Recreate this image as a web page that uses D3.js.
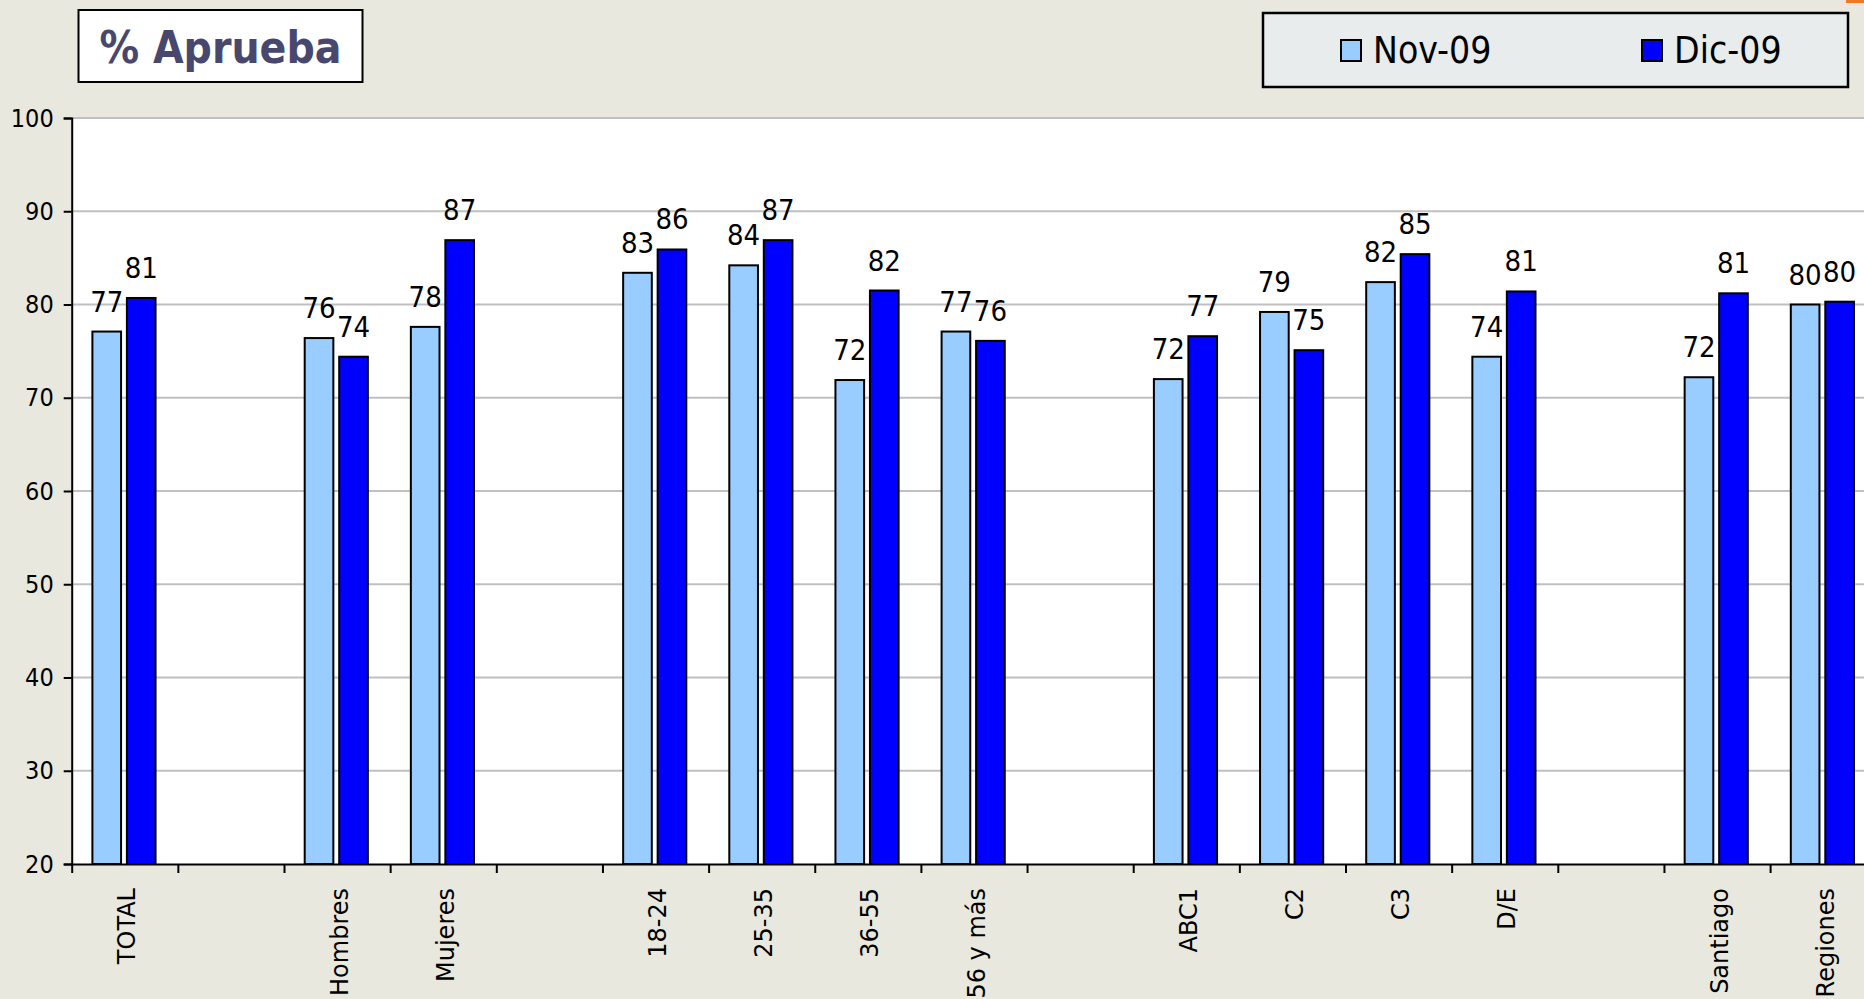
<!DOCTYPE html>
<html lang="es">
<head>
<meta charset="UTF-8">
<title>% Aprueba</title>
<script src="https://d3js.org/d3.v7.min.js"></script>
<style>
  html, body { margin: 0; padding: 0; background: #e8e8de; overflow: hidden; }
</style>
</head>
<body>
<script>
// categories ('' = empty spacer slot)
const categories = ['TOTAL', '', 'Hombres', 'Mujeres', '', '18-24', '25-35', '36-55', '56 y más',
  '', 'ABC1', 'C2', 'C3', 'D/E', '', 'Santiago', 'Regiones'];
const novValues = [77.1, null, 76.4, 77.6, null, 83.4, 84.2, 71.9, 77.1,
  null, 72.0, 79.2, 82.4, 74.4, null, 72.2, 80.0];
const dicValues = [80.7, null, 74.4, 86.9, null, 85.9, 86.9, 81.5, 76.1,
  null, 76.6, 75.1, 85.4, 81.4, null, 81.2, 80.3];
const seriesNames = ['Nov-09', 'Dic-09'];
const seriesColors = ['#99ccff', '#0000ff'];
const yTicks = [20, 30, 40, 50, 60, 70, 80, 90, 100];

const width = 1864, height = 999;
const x0 = 71.7, slot = 106.15;
const font = '"DejaVu Sans Condensed", "DejaVu Sans", sans-serif';

const svg = d3.select('body').append('svg')
  .attr('width', width).attr('height', height);

svg.append('rect').attr('width', width).attr('height', height).attr('fill', '#e8e8de');

const x = d3.scaleBand()
  .domain(d3.range(categories.length))
  .range([x0, x0 + slot * categories.length])
  .paddingInner(0).paddingOuter(0);
const xb = d3.scaleLinear()
  .domain([0, categories.length])
  .range([x0, x0 + slot * categories.length]);
const y = d3.scaleLinear().domain([20, 100]).range([864, 118]);

// plot area
svg.append('rect')
  .attr('x', x0).attr('y', y(100))
  .attr('width', width - x0).attr('height', y(20) - y(100))
  .attr('fill', '#ffffff');

// gridlines
svg.append('g').selectAll('line')
  .data(yTicks.slice(1))
  .join('line')
  .attr('x1', x0).attr('x2', width)
  .attr('y1', d => y(d)).attr('y2', d => y(d))
  .attr('stroke', '#c0c0c0').attr('stroke-width', 2);

// bars
const bw = x.bandwidth();
const offsets = [0.195 * bw, 0.195 * bw + 0.27 * bw + 0.055 * bw];
const series = [novValues, dicValues];

series.forEach((vals, s) => {
  const pts = vals.map((v, i) => ({ i, v })).filter(d => d.v != null);
  svg.append('g').selectAll('rect')
    .data(pts)
    .join('rect')
    .attr('x', d => x(d.i) + offsets[s])
    .attr('y', d => y(d.v))
    .attr('width', 0.27 * bw)
    .attr('height', d => y(20) - y(d.v))
    .attr('fill', seriesColors[s])
    .attr('stroke', '#000').attr('stroke-width', 2);

  svg.append('g').selectAll('text')
    .data(pts)
    .join('text')
    .attr('x', d => x(d.i) + offsets[s] + 0.135 * bw)
    .attr('y', d => y(d.v) - 20)
    .attr('text-anchor', 'middle')
    .style('font-family', font)
    .style('font-size', '29px')
    .style('fill', '#000')
    .text(d => Math.round(d.v));
});

// y axis
const yAxis = svg.append('g')
  .attr('transform', `translate(${x0},0)`)
  .call(d3.axisLeft(y).tickValues(yTicks).tickSize(8).tickPadding(10));
yAxis.select('.domain').attr('stroke', '#000').attr('stroke-width', 2);
yAxis.selectAll('.tick line').attr('stroke', '#000').attr('stroke-width', 2);
yAxis.selectAll('.tick text')
  .style('font-family', font).style('font-size', '25px').attr('fill', '#000');

// x axis (ticks at slot boundaries)
const xAxis = svg.append('g')
  .attr('transform', `translate(0,${y(20)})`)
  .call(d3.axisBottom(xb).tickValues(d3.range(categories.length + 1)).tickFormat('').tickSize(9).tickSizeOuter(0));
xAxis.select('.domain').attr('stroke', '#000').attr('stroke-width', 2);
xAxis.selectAll('.tick line').attr('stroke', '#000').attr('stroke-width', 2);

svg.append('g').selectAll('text')
  .data(categories.map((c, i) => ({ c, i })).filter(d => d.c))
  .join('text')
  .attr('transform', d => `translate(${x(d.i) + bw / 2 + 2},${y(20) + 24}) rotate(-90)`)
  .attr('text-anchor', 'end')
  .attr('dy', '0.36em')
  .style('font-family', '"DejaVu Sans", sans-serif')
  .style('font-size', '24px')
  .style('fill', '#000')
  .text(d => d.c);

// title box
svg.append('rect')
  .attr('x', 78.5).attr('y', 10).attr('width', 284).attr('height', 72)
  .attr('fill', '#fff').attr('stroke', '#000').attr('stroke-width', 2);
svg.append('text')
  .attr('x', 220.5).attr('y', 63)
  .attr('text-anchor', 'middle')
  .style('font-family', font)
  .style('font-weight', 'bold')
  .style('font-size', '44px')
  .style('fill', '#48486e')
  .text('% Aprueba');

// legend
svg.append('rect')
  .attr('x', 1263).attr('y', 13).attr('width', 585).attr('height', 74)
  .attr('fill', '#e8ecec').attr('stroke', '#000').attr('stroke-width', 2.5);
const legendX = [1341, 1642];
const legend = svg.append('g').selectAll('g')
  .data(seriesNames)
  .join('g')
  .attr('transform', (d, i) => `translate(${legendX[i]},40)`);
legend.append('rect')
  .attr('width', 20).attr('height', 21)
  .attr('fill', (d, i) => seriesColors[i])
  .attr('stroke', '#000').attr('stroke-width', 2);
legend.append('text')
  .attr('x', 32).attr('y', 23)
  .style('font-family', font)
  .style('font-size', '37px')
  .style('fill', '#000')
  .text(d => d);

// small orange mark at the top right corner
svg.append('rect')
  .attr('x', 1846).attr('y', 0).attr('width', 18).attr('height', 3)
  .attr('fill', '#f07820');
</script>
</body>
</html>
